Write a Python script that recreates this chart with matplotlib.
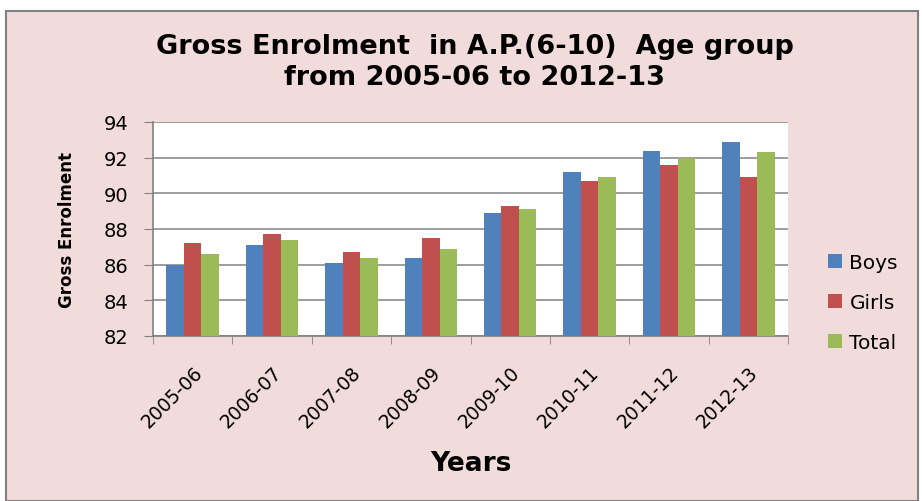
"""Grouped bar chart of gross enrolment by year."""
import matplotlib.pyplot as plt
import numpy as np
from matplotlib.patches import Rectangle

years = ["2005-06", "2006-07", "2007-08", "2008-09",
         "2009-10", "2010-11", "2011-12", "2012-13"]
boys = [86.0, 87.1, 86.1, 86.4, 88.9, 91.2, 92.4, 92.9]
girls = [87.2, 87.7, 86.7, 87.5, 89.3, 90.7, 91.6, 90.9]
total = [86.6, 87.4, 86.4, 86.9, 89.1, 90.9, 92.0, 92.3]
yticks = [82, 84, 86, 88, 90, 92, 94]


def main():
    fig = plt.figure(figsize=(9.22, 5.02), dpi=100)
    fig.patch.set_facecolor("white")

    # Pink chart area with gray border, kept behind the axes
    fig.patches.append(Rectangle((6 / 922, 0), 1 - 10 / 922, 1 - 12 / 502,
                                 transform=fig.transFigure,
                                 facecolor="#F2DCDB", edgecolor="#808080",
                                 linewidth=1.5, zorder=-10))

    ax = fig.add_axes([153 / 922, 1 - 337 / 502, 635 / 922, 214 / 502])
    ax.set_facecolor("white")

    x = np.arange(len(years))
    w = 0.22
    series = [("Boys", boys, "#4F81BD"), ("Girls", girls, "#C0504D"),
              ("Total", total, "#9BBB59")]
    for i, (name, vals, col) in enumerate(series):
        ax.bar(x + (i - 1) * w, np.array(vals) - 82, bottom=82, width=w,
               color=col, label=name, zorder=3)

    ax.set_ylim(82, 94)
    ax.set_xlim(-0.5, len(years) - 0.5)
    ax.set_yticks(yticks)
    ax.yaxis.grid(True, color="#8C8C8C", linewidth=1.2, zorder=0)
    ax.set_xticks(x)
    ax.set_xticklabels(years, rotation=45, ha="right", rotation_mode="anchor",
                       fontsize=13.5)
    ax.set_xticks(np.arange(-0.5, len(years)), minor=True)
    ax.tick_params(axis="x", which="major", length=0, pad=19)
    ax.tick_params(axis="x", which="minor", length=6, color="#808080")
    ax.tick_params(axis="y", length=6.5, color="#808080", labelsize=14,
                   pad=11)
    for side in ["top", "right"]:
        ax.spines[side].set_visible(False)
    for side in ["left", "bottom"]:
        ax.spines[side].set_color("#808080")
        ax.spines[side].set_linewidth(1.2)

    ax.set_ylabel("Gross Enrolment", fontsize=12, fontweight="bold",
                  labelpad=20)
    ax.set_xlabel("Years", fontsize=19, fontweight="bold", labelpad=14)

    fig.text(0.515, 0.876, "Gross Enrolment  in A.P.(6-10)  Age group\nfrom 2005-06 to 2012-13",
             ha="center", va="center", fontsize=19.5, fontweight="bold",
             linespacing=1.25)

    ax.legend(loc="center left", bbox_to_anchor=(1.035, 0.155), frameon=False,
              fontsize=14.5, handlelength=0.7, handleheight=0.7,
              labelspacing=1.05, handletextpad=0.35)

    fig.savefig("out.png", dpi=100, facecolor=fig.get_facecolor())


if __name__ == "__main__":
    main()
